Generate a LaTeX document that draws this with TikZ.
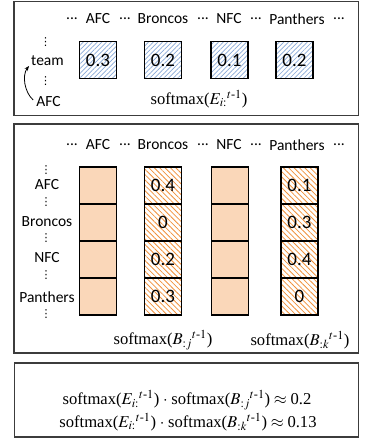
\documentclass[tikz,border=0pt]{standalone}
\usepackage{amsmath}
\usepackage{mathptmx}
\usepackage{fontspec}
\setmainfont{Carlito}
\newfontfamily\tnr{Liberation Serif}
\newfontfamily\dvs{DejaVu Sans}
\usetikzlibrary{patterns.meta,arrows.meta}
\definecolor{hblue}{RGB}{135,168,215}
\definecolor{horange}{RGB}{240,145,60}
\definecolor{peach}{RGB}{250,215,185}
\definecolor{framec}{RGB}{60,60,60}
\newcommand\sm[2]{{\tnr softmax(}$#1_{#2}{}^{t\text{\tnr -}1}${\tnr )}}
\tikzset{
  panel/.style={draw=framec,line width=1.2pt},
  lab/.style={inner sep=0pt,font=\fontsize{15.5}{17}\selectfont},
  vdots/.style={inner sep=0pt,font=\dvs\fontsize{11}{12}\selectfont},
  formula/.style={inner sep=0pt,font=\fontsize{16.6}{19}\selectfont},
  ecell/.style={draw,line width=1.3pt,minimum width=37pt,minimum height=37pt,inner sep=0pt,
    pattern={Lines[angle=45,distance=3.3pt,line width=0.7pt]},pattern color=hblue,
    font=\fontsize{19}{20}\selectfont},
  pcell/.style={draw,line width=1.3pt,minimum width=37pt,minimum height=37pt,inner sep=0pt,fill=peach},
  hcell/.style={draw,line width=1.3pt,minimum width=37pt,minimum height=37pt,inner sep=0pt,
    pattern={Lines[angle=-45,distance=3.8pt,line width=0.8pt]},pattern color=horange,
    font=\fontsize{19}{20}\selectfont},
  arr/.style={line width=0.8pt,-{Stealth[length=5pt,width=4pt]}}
}
\begin{document}
\begin{tikzpicture}[x=1pt,y=-1pt]
\useasboundingbox (0,0) rectangle (371,438);
% panels
\draw[panel] (14,1.5) rectangle (358.5,115.5);
\draw[panel] (14,124) rectangle (358.5,353);
\draw[panel] (14.5,363) rectangle (358.5,437);
% headers
\foreach \y/\p in {19/a,145/b}{
  \node[lab] (\p h1) at (72,\y) {...};
  \node[lab] (\p h2) at (98,\y) {AFC};
  \node[lab] (\p h3) at (125,\y) {...};
  \node[lab] (\p h4) at (163,\y) {Broncos};
  \node[lab] (\p h5) at (203,\y) {...};
  \node[lab] (\p h6) at (229,\y) {NFC};
  \node[lab] (\p h7) at (256,\y) {...};
  \node[lab] (\p h8) at (297,\y) {Panthers};
  \node[lab] (\p h9) at (339,\y) {...};
}
% panel 1
\node[ecell] (ea) at (98,60) {0.3};
\node[ecell] (eb) at (163,60) {0.2};
\node[ecell] (ec) at (229.5,60) {0.1};
\node[ecell] (ed) at (294.5,60) {0.2};
\node[vdots] (v1) at (45.5,42) {⋮};
\node[lab] (team) at (47.5,61) {team};
\node[vdots] (v2) at (45.5,81) {⋮};
\node[lab] (afc1) at (48.5,102) {AFC};
\draw[arr] ([shift={(-3,-2)}]afc1.west) .. controls +(-9,-8) and +(-7,9) .. ([shift={(-2,5)}]team.west);
\node[formula] (smE) at (199,99) {\sm{E}{i\mathord{:}}};
% panel 2
\foreach \c/\x in {1/98,3/230}{
  \foreach \r/\y in {1/185.5,2/222.5,3/259.5,4/296.5}{
    \node[pcell] (c\c r\r) at (\x,\y) {};
  }
}
\node[hcell] (c2r1) at (163,185.5) {0.4};
\node[hcell] (c2r2) at (163,222.5) {0};
\node[hcell] (c2r3) at (163,259.5) {0.2};
\node[hcell] (c2r4) at (163,296.5) {0.3};
\node[hcell] (c4r1) at (299.5,185.5) {0.1};
\node[hcell] (c4r2) at (299.5,222.5) {0.3};
\node[hcell] (c4r3) at (299.5,259.5) {0.4};
\node[hcell] (c4r4) at (299.5,296.5) {0};
\node[vdots] (w1) at (46,170) {⋮};
\node[lab] (l1) at (47,185) {AFC};
\node[vdots] (w2) at (46,202) {⋮};
\node[lab] (l2) at (47,222) {Broncos};
\node[vdots] (w3) at (46,238) {⋮};
\node[lab] (l3) at (47,258) {NFC};
\node[vdots] (w4) at (46,275) {⋮};
\node[lab] (l4) at (47,297) {Panthers};
\node[vdots] (w5) at (46,314) {⋮};
\node[formula] (smBj) at (163,340) {\sm{B}{\mathord{:}j}};
\node[formula] (smBk) at (300,340) {\sm{B}{\mathord{:}k}};
% panel 3
\node[formula] (f1) at (187,400) {\sm{E}{i\mathord{:}} $\cdot$ \sm{B}{\mathord{:}j} $\approx$ {\tnr 0.2}};
\node[formula] (f2) at (188,422) {\sm{E}{i\mathord{:}} $\cdot$ \sm{B}{\mathord{:}k} $\approx$ {\tnr 0.13}};
\end{tikzpicture}
\end{document}
